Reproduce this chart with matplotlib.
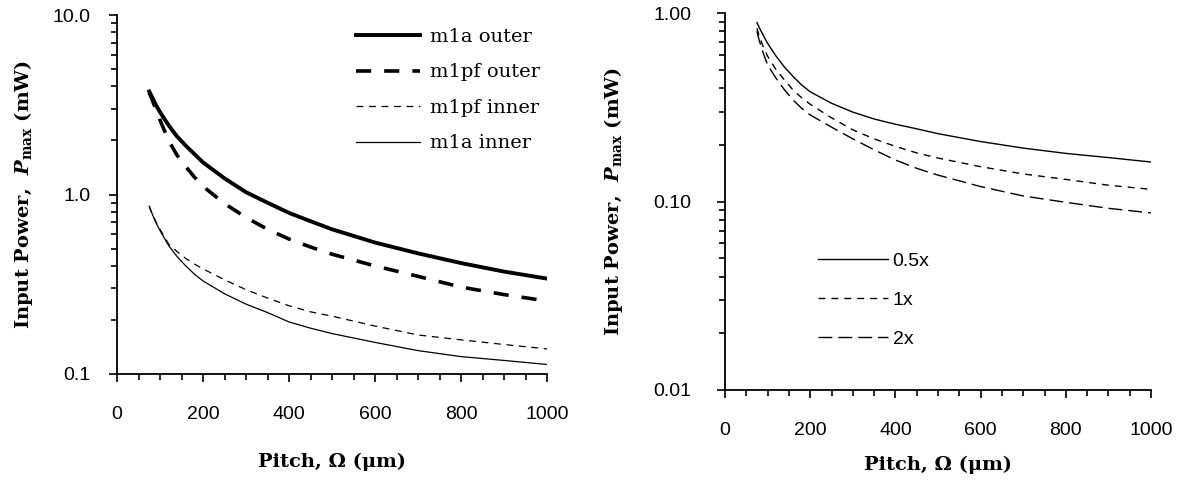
import numpy as np
import matplotlib
matplotlib.use('Agg')
import matplotlib.pyplot as plt

plt.rcParams['font.family'] = 'Liberation Sans'
plt.rcParams['mathtext.fontset'] = 'custom'
plt.rcParams['mathtext.rm'] = 'DejaVu Serif:bold'
plt.rcParams['mathtext.it'] = 'DejaVu Serif:italic:bold'
plt.rcParams['mathtext.bf'] = 'DejaVu Serif:bold'

# pitch values (um)
pitch = [75, 80, 90, 100, 120, 140, 160, 180, 200, 250, 300, 350, 400, 450,
         500, 600, 700, 800, 900, 1000]

# left panel, input power (mW)
m1a_outer = [3.75, 3.55, 3.17, 2.88, 2.43, 2.10, 1.87, 1.68, 1.51, 1.23, 1.03,
             0.90, 0.79, 0.71, 0.64, 0.54, 0.47, 0.415, 0.372, 0.34]
m1pf_outer = [3.7, 3.45, 3.0, 2.6, 2.0, 1.65, 1.43, 1.25, 1.11, 0.89, 0.745,
              0.64, 0.565, 0.51, 0.465, 0.40, 0.35, 0.305, 0.277, 0.255]
m1pf_inner = [0.86, 0.80, 0.71, 0.64, 0.53, 0.48, 0.44, 0.41, 0.385, 0.335,
              0.295, 0.265, 0.24, 0.222, 0.21, 0.185, 0.165, 0.155, 0.146, 0.138]
m1a_inner = [0.86, 0.80, 0.70, 0.63, 0.52, 0.45, 0.40, 0.36, 0.33, 0.28, 0.245,
             0.22, 0.195, 0.18, 0.168, 0.15, 0.135, 0.125, 0.119, 0.113]

# right panel, input power (mW)
p05x = [0.89, 0.84, 0.76, 0.69, 0.59, 0.515, 0.46, 0.415, 0.382, 0.332, 0.298,
        0.274, 0.257, 0.243, 0.229, 0.208, 0.192, 0.180, 0.171, 0.162]
p1x = [0.83, 0.76, 0.66, 0.59, 0.50, 0.44, 0.39, 0.355, 0.328, 0.278, 0.24,
       0.215, 0.196, 0.181, 0.17, 0.153, 0.14, 0.131, 0.122, 0.116]
p2x = [0.80, 0.72, 0.61, 0.53, 0.45, 0.39, 0.345, 0.312, 0.288, 0.248, 0.215,
       0.188, 0.166, 0.150, 0.138, 0.12, 0.107, 0.099, 0.092, 0.087]

xlabel = 'Pitch, \u03a9 (\u03bcm)'
ylabel = r'Input Power,  $P_{\rm max}$ (mW)'
lblfont = dict(fontsize=14, fontweight='bold', family='DejaVu Serif')

fig = plt.figure(figsize=(11.8, 4.83), dpi=100)
ax1 = fig.add_axes([117/1180, 109/483, 430/1180, 359/483])
ax2 = fig.add_axes([725/1180, 93/483, 426/1180, 377/483])


def style(ax, ylim, yticks, ylabels, ypad, xlab_y, ylab_x):
    ax.set_yscale('log')
    ax.set_xlim(0, 1000)
    ax.set_ylim(*ylim)
    ax.set_xticks(range(0, 1001, 200))
    ax.set_xticks(range(0, 1001, 50), minor=True)
    ax.set_yticks(yticks)
    ax.set_yticklabels(ylabels)
    for s in ('top', 'right'):
        ax.spines[s].set_visible(False)
    ax.spines['left'].set_linewidth(1.3)
    ax.spines['bottom'].set_linewidth(1.3)
    ax.tick_params(which='both', direction='out', labelsize=14, width=1.2)
    ax.tick_params(which='major', length=6)
    ax.tick_params(which='minor', length=4.5)
    ax.tick_params(axis='x', which='both', pad=17)
    ax.tick_params(axis='y', which='both', pad=ypad)
    ax.set_xlabel(xlabel, **lblfont)
    ax.set_ylabel(ylabel, **lblfont)
    ax.xaxis.set_label_coords(0.5, xlab_y)
    ax.yaxis.set_label_coords(ylab_x, 0.5)


ax1.plot(pitch, m1a_outer, color='black', lw=2.8, label='m1a outer')
ax1.plot(pitch, m1pf_outer, color='black', lw=2.6, dashes=(4.2, 3.6), label='m1pf outer')
ax1.plot(pitch, m1pf_inner, color='black', lw=0.9, dashes=(5.5, 4.5), label='m1pf inner')
ax1.plot(pitch, m1a_inner, color='black', lw=0.9, label='m1a inner')
style(ax1, (0.1, 10), [0.1, 1, 10], ['0.1', '1.0', '10.0'], 13, -0.22, -0.19)
ax1.legend(loc='upper left', bbox_to_anchor=(0.555, 0.964), frameon=False,
           prop={'family': 'DejaVu Serif', 'size': 14}, borderpad=0, borderaxespad=0,
           handlelength=3.3, handletextpad=0.5, labelspacing=0.9)

ax2.plot(pitch, p05x, color='black', lw=1.0, label='0.5x')
ax2.plot(pitch, p1x, color='black', lw=1.0, dashes=(5, 4.3), label='1x')
ax2.plot(pitch, p2x, color='black', lw=1.0, dashes=(10, 4.3), label='2x')
style(ax2, (0.01, 1), [0.01, 0.1, 1], ['0.01', '0.10', '1.00'], 18, -0.175, -0.235)
ax2.legend(loc='upper left', bbox_to_anchor=(0.218, 0.365), frameon=False,
           prop={'family': 'Liberation Sans', 'size': 14}, borderpad=0, borderaxespad=0,
           handlelength=3.6, handletextpad=0.25, labelspacing=1.1)

fig.savefig('out.png', dpi=100)
